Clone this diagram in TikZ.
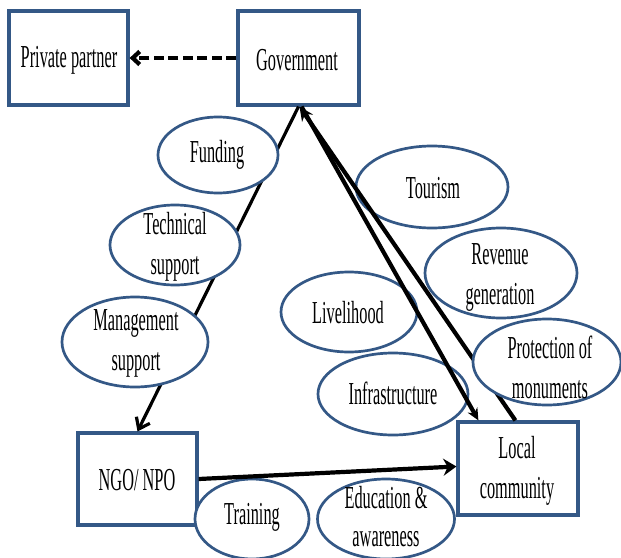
\documentclass[tikz,border=0pt]{standalone}
\usepackage{fontspec}
\setmainfont{Liberation Serif}[FakeStretch=0.51]
\usetikzlibrary{shapes.geometric,arrows.meta,calc}
\definecolor{bord}{RGB}{52,88,134}
\tikzset{
  box/.style={draw=bord,line width=3.2pt,fill=white,inner sep=0pt},
  oval/.style={ellipse,draw=bord,line width=2.7pt,fill=white,inner sep=0pt},
  lbl/.style={font=\fontsize{32}{40}\selectfont,align=center,inner sep=0pt,text=black},
  link/.style={line width=3.2pt},
  heavylink/.style={line width=4.2pt},
}
\begin{document}
\begin{tikzpicture}[x=1pt,y=-1pt]
\useasboundingbox[fill=white] (0,0) rectangle (621,557);
% boxes
\node[box,minimum width=119pt,minimum height=94pt] (pp) at (68.5,58) {};
\node[box,minimum width=121pt,minimum height=94pt] (gov) at (298.5,58) {};
\node[box,minimum width=119pt,minimum height=92pt] (ngo) at (137.5,479) {};
\node[box,minimum width=120pt,minimum height=93pt] (lc) at (518,468.5) {};
% ellipses below the connectors
\node[oval,minimum width=152pt,minimum height=82pt] (tour) at (432,187) {};
\node[oval,minimum width=152pt,minimum height=90pt] (rev) at (501,273) {};
\node[oval,minimum width=136pt,minimum height=80pt] (live) at (349,312) {};
\node[oval,minimum width=150pt,minimum height=82pt] (infra) at (393,394) {};
\node[oval,minimum width=114pt,minimum height=80pt] (train) at (252,519) {};
\node[oval,minimum width=137pt,minimum height=80pt] (edu) at (386,519) {};
% connectors
\draw[link,-{Straight Barb[length=10pt,width=15pt]}] (gov.south) -- (ngo.north);
\draw[heavylink,-{Stealth[length=12pt,width=11pt]}] ([xshift=3pt]gov.south) -- ([xshift=22pt]lc.north west);
\draw[heavylink,-{Stealth[length=14pt,width=13pt]}] ([xshift=59pt]lc.north west) -- ([xshift=1pt]gov.south);
\draw[heavylink,-{Stealth[length=13pt,width=17pt]}] (ngo.east) -- ([yshift=2pt]lc.west);
\draw[heavylink,dash pattern=on 10pt off 4.5pt,-{Straight Barb[length=7pt,width=13pt]}] (gov.west) -- (pp.east);
% ellipses above the connectors
\node[oval,minimum width=120pt,minimum height=76pt] (fund) at (218,155) {};
\node[oval,minimum width=130pt,minimum height=80pt] (tech) at (175,245) {};
\node[oval,minimum width=146pt,minimum height=90pt] (mgmt) at (135,342) {};
\node[oval,minimum width=148pt,minimum height=86pt] (prot) at (547,362) {};
% texts
\node[lbl] (ppT) at (69,60) {Private partner};
\node[lbl] (govT) at (297,60) {Government};
\node[lbl] (ngoT) at (137,480) {NGO/ NPO};
\node[lbl] (lcT) at (517,471) {Local\\community};
\node[lbl] (fundT) at (217,155) {Funding};
\node[lbl] (techT) at (175,247) {Technical\\support};
\node[lbl] (mgmtT) at (136,343) {Management\\support};
\node[lbl] (tourT) at (433,188) {Tourism};
\node[lbl] (revT) at (500,277) {Revenue\\generation};
\node[lbl] (liveT) at (348,313) {Livelihood};
\node[lbl] (infraT) at (393,393) {Infrastructure};
\node[lbl] (protT) at (550,367) {Protection of\\monuments};
\node[lbl] (trainT) at (252,517) {Training};
\node[lbl,font=\fontsize{32}{38}\selectfont] (eduT) at (386,517) {Education \&\\awareness};
\end{tikzpicture}
\end{document}
